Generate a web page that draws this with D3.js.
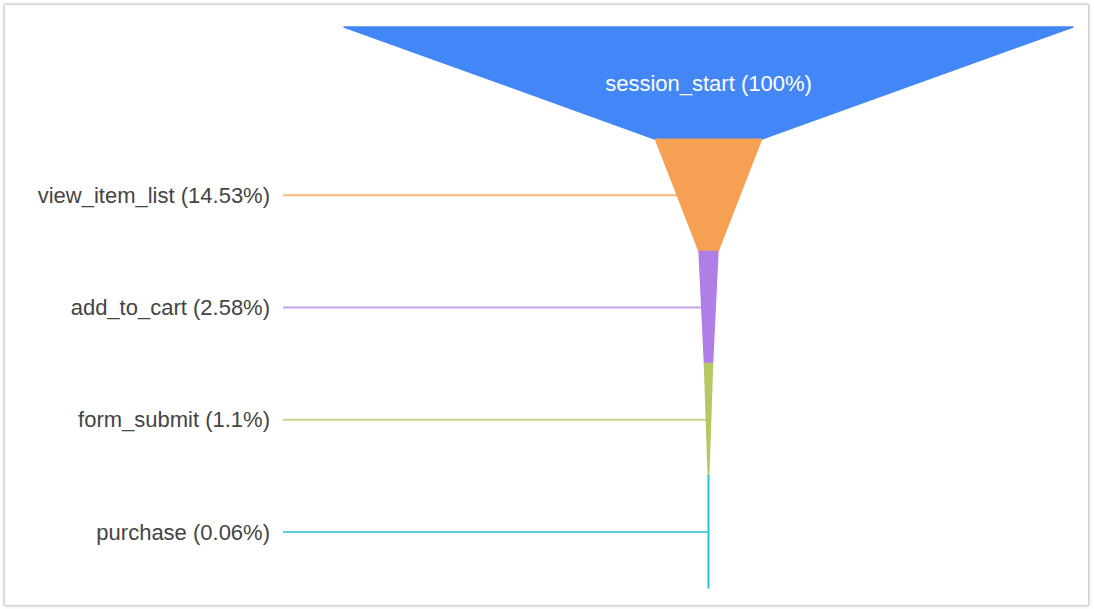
<!DOCTYPE html>
<html>
<head>
<meta charset="utf-8">
<script src="https://cdn.jsdelivr.net/npm/d3@7"></script>
<style>
  html, body { margin: 0; padding: 0; background: #fff; }
  #card {
    position: absolute; left: 4px; top: 4px; width: 1085px; height: 602px;
    border: 1px solid #d0d0d0; box-shadow: 0 0 3px rgba(0,0,0,0.25);
    background: #fff; box-sizing: border-box;
  }
  svg { position: absolute; left: 0; top: 0; }
  text { font-family: "Liberation Sans", Arial, sans-serif; }
</style>
</head>
<body>
<div id="card"></div>
<svg id="chart" width="1094" height="609"></svg>
<script>
// Funnel steps and the share of sessions reaching each one
const steps = ["session_start", "view_item_list", "add_to_cart", "form_submit", "purchase"];
const percents = [100, 14.53, 2.58, 1.1, 0.06];
const colors = ["#4287f5", "#f5a052", "#af7fe6", "#b5c864", "#27bfd0"];

const svg = d3.select("#chart");
const cx = 708.5;

const widthScale = d3.scaleLinear().domain([0, 100]).range([0, 729]);
const yScale = d3.scaleLinear().domain([0, steps.length]).range([27, 588]);

const data = steps.map((name, i) => ({
  name,
  pct: percents[i],
  next: i < steps.length - 1 ? percents[i + 1] : percents[i],
  color: colors[i],
  i
}));

// Trapezoid for each step: top width = this step, bottom width = next step
const g = svg.append("g");
g.selectAll("path.seg")
  .data(data)
  .join("path")
  .attr("class", "seg")
  .attr("d", d => {
    const y0 = yScale(d.i), y1 = yScale(d.i + 1);
    const w0 = widthScale(d.pct) / 2, w1 = widthScale(d.next) / 2;
    return `M${cx - w0},${y0}L${cx + w0},${y0}L${cx + w1},${y1}L${cx - w1},${y1}Z`;
  })
  .attr("fill", d => d.color)
  .attr("stroke", d => d.color)
  .attr("stroke-width", 1.5)
  .attr("stroke-linejoin", "round");

const labelX = 270;
const lineX0 = 283;

// Leader lines for the outside labels
const outside = data.filter(d => d.i > 0);
g.selectAll("line.leader")
  .data(outside)
  .join("line")
  .attr("class", "leader")
  .attr("x1", lineX0)
  .attr("x2", d => {
    const wm = (widthScale(d.pct) + widthScale(d.next)) / 4;
    return cx - wm;
  })
  .attr("y1", d => (yScale(d.i) + yScale(d.i + 1)) / 2)
  .attr("y2", d => (yScale(d.i) + yScale(d.i + 1)) / 2)
  .attr("stroke", d => d.color)
  .attr("stroke-opacity", 0.75)
  .attr("stroke-width", 2);

g.selectAll("text.outside")
  .data(outside)
  .join("text")
  .attr("class", "outside")
  .attr("x", labelX)
  .attr("y", d => (yScale(d.i) + yScale(d.i + 1)) / 2)
  .attr("dy", "0.35em")
  .attr("text-anchor", "end")
  .attr("font-size", 22)
  .attr("fill", "#444444")
  .text(d => `${d.name} (${d.pct}%)`);

// Label for the first step sits inside its shape
g.append("text")
  .attr("x", cx)
  .attr("y", (yScale(0) + yScale(1)) / 2)
  .attr("dy", "0.35em")
  .attr("text-anchor", "middle")
  .attr("font-size", 22)
  .attr("fill", "#ffffff")
  .text(`${data[0].name} (${data[0].pct}%)`);
</script>
</body>
</html>
